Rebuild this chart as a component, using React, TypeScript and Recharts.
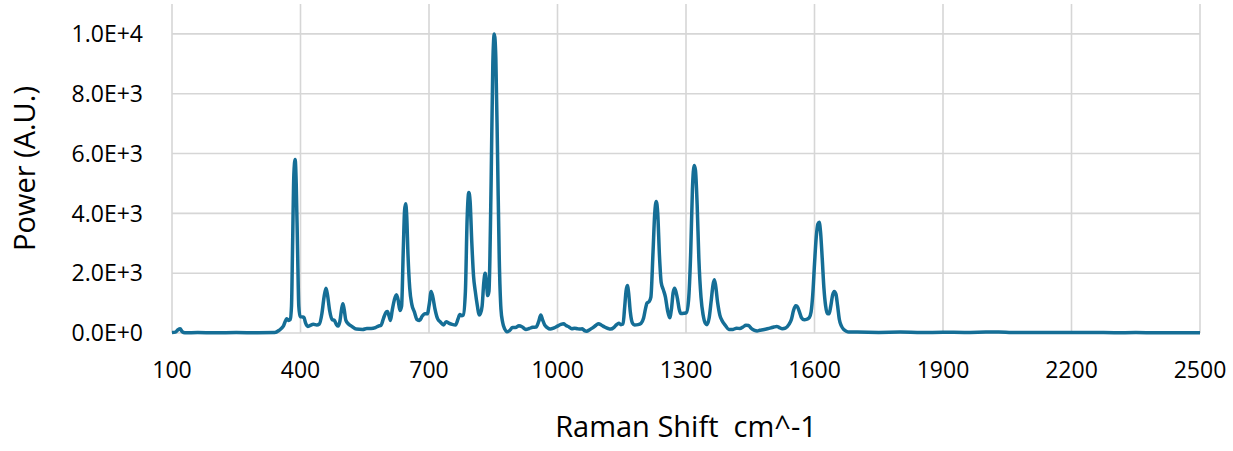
import { LineChart, Line, XAxis, YAxis, CartesianGrid, Label } from 'recharts'

// Raman spectrum
const shift = [
  100, 108, 114, 119, 124, 130, 160, 200, 250, 300, 340, 350, 360, 368, 372, 376, 379, 381.5, 384.5, 387.5,
  390, 393, 396, 399, 404, 408, 412, 417, 422, 430, 438, 444, 450, 455, 459.5, 463, 468, 474, 479, 484,
  488, 492, 496, 499, 502, 506, 512, 520, 530, 545, 555, 565, 575, 582, 588, 594, 600, 603, 607, 610,
  614, 619, 624, 628, 632, 636, 640, 643, 645.5, 648, 651, 655, 660, 666, 672, 678, 684, 690, 696, 701,
  705, 709, 714, 720, 727, 734, 740, 746, 754, 762, 768, 772, 776, 780, 785, 789, 793, 796, 800, 804,
  808, 813, 817, 820, 824, 828, 831, 834, 837, 840, 845, 849, 852.5, 856, 860, 864, 868, 872, 877, 882,
  888, 895, 902, 910, 918, 926, 934, 942, 950, 956, 961, 965, 970, 976, 983, 992, 1000, 1008, 1014, 1020,
  1027, 1033, 1040, 1047, 1053, 1058, 1063, 1068, 1075, 1082, 1090, 1096, 1102, 1110, 1118, 1124, 1132, 1138, 1143, 1148,
  1153, 1157, 1160, 1163, 1166, 1170, 1175, 1180, 1188, 1195, 1201, 1206, 1209, 1214, 1218, 1223, 1227, 1230.5, 1234, 1238,
  1242, 1247, 1252, 1257, 1262, 1266, 1270, 1273.5, 1277, 1280, 1284, 1288, 1295, 1301, 1306, 1311, 1315, 1319, 1322, 1326,
  1330, 1335, 1340, 1345, 1349, 1354, 1359, 1363, 1366, 1369, 1374, 1379, 1384, 1392, 1400, 1410, 1418, 1426, 1433, 1440,
  1446, 1452, 1460, 1466, 1472, 1480, 1490, 1498, 1505, 1512, 1518, 1525, 1532, 1540, 1546, 1551, 1556, 1560, 1565, 1570,
  1576, 1582, 1588, 1592, 1596, 1600, 1604, 1608, 1611, 1614, 1618, 1622, 1626, 1630, 1634, 1638, 1642, 1646, 1650, 1654,
  1658, 1663, 1668, 1674, 1680, 1700, 1750, 1800, 1850, 1900, 1950, 2000, 2030, 2060, 2100, 2150, 2200, 2250, 2300, 2350,
  2400, 2450, 2500,
]

const power = [
  20, 30, 110, 140, 40, 10, 15, 10, 15, 10, 15, 90, 230, 480, 420, 450, 900, 2900, 5300, 5800,
  5000, 2900, 900, 550, 540, 520, 330, 220, 250, 290, 270, 300, 650, 1200, 1500, 1280, 750, 450, 420, 280,
  230, 400, 800, 980, 780, 420, 300, 220, 130, 120, 150, 150, 180, 230, 260, 500, 700, 720, 550, 420,
  750, 1100, 1280, 1100, 750, 900, 2800, 4100, 4320, 3900, 2600, 1500, 950, 700, 450, 420, 560, 640, 640, 1000,
  1390, 1200, 800, 480, 360, 270, 380, 330, 290, 270, 480, 620, 580, 600, 1400, 3800, 4700, 4400, 3000, 1900,
  1400, 900, 600, 650, 900, 1700, 2000, 1700, 1250, 1400, 5000, 9000, 10000, 9200, 6000, 2500, 800, 350, 130, 40,
  80, 180, 180, 240, 200, 120, 150, 190, 200, 380, 600, 450, 270, 180, 130, 170, 230, 290, 310, 250,
  200, 140, 160, 140, 130, 140, 80, 60, 110, 170, 260, 310, 270, 200, 150, 130, 190, 280, 330, 280,
  300, 900, 1400, 1590, 1350, 700, 330, 270, 280, 320, 500, 850, 1000, 1050, 1200, 2700, 4000, 4400, 4000, 2600,
  1700, 1450, 1200, 750, 510, 800, 1350, 1500, 1350, 1150, 800, 650, 660, 680, 1100, 2700, 4800, 5600, 5450, 4300,
  2500, 1200, 600, 330, 280, 500, 1100, 1600, 1780, 1600, 1000, 600, 420, 250, 120, 120, 160, 150, 200, 260,
  250, 160, 90, 70, 90, 110, 140, 170, 200, 220, 180, 140, 160, 280, 450, 750, 910, 880, 700, 500,
  440, 460, 520, 700, 1300, 2300, 3200, 3650, 3700, 3400, 2500, 1500, 900, 650, 640, 900, 1250, 1390, 1300, 900,
  450, 230, 120, 60, 30, 30, 20, 30, 15, 25, 20, 30, 35, 20, 15, 20, 15, 20, 10, 15,
  10, 12, 10,
]

const xTicks = [100, 400, 700, 1000, 1300, 1600, 1900, 2200, 2500]
const yTicks = [0, 2000, 4000, 6000, 8000, 10000]

const data = shift.map((s, i) => ({ shift: s, power: power[i] }))

const font = '"Open Sans", "Liberation Sans", sans-serif'
const tickStyle = { fontSize: 23, fill: '#000', fontFamily: font }
const titleStyle = { fontSize: 29, fill: '#000', fontFamily: font }

export default function App() {
  return (
    <div style={{ position: 'absolute', left: 0, top: 0, background: '#fff' }}>
      <LineChart width={1233} height={451} data={data} margin={{ top: 4, right: 33, left: 0, bottom: 0 }}>
        <CartesianGrid stroke="#d6d6d6" strokeWidth={1.6} horizontalValues={yTicks} verticalValues={xTicks} />
        <XAxis
          dataKey="shift"
          type="number"
          domain={[100, 2500]}
          ticks={xTicks}
          height={118}
          axisLine={false}
          tickLine={false}
          tickSize={0}
          tickMargin={29}
          tick={tickStyle}
          interval={0}
        >
          <Label
            value={'Raman Shift\u00a0\u00a0cm^-1'}
            position="insideBottom"
            offset={14}
            style={titleStyle}
          />
        </XAxis>
        <YAxis
          type="number"
          domain={[0, 11000]}
          ticks={yTicks}
          width={172}
          axisLine={false}
          tickLine={false}
          tickSize={0}
          tickMargin={29}
          tick={tickStyle}
          interval={0}
          tickFormatter={(v: number) => v.toExponential(1).replace('e', 'E')}
        >
          <Label
            value="Power (A.U.)"
            angle={-90}
            position="insideLeft"
            offset={25}
            style={{ ...titleStyle, textAnchor: 'middle' }}
          />
        </YAxis>
        <Line
          type="monotone"
          dataKey="power"
          stroke="#156e96"
          strokeWidth={3.5}
          dot={false}
          isAnimationActive={false}
        />
      </LineChart>
    </div>
  )
}
